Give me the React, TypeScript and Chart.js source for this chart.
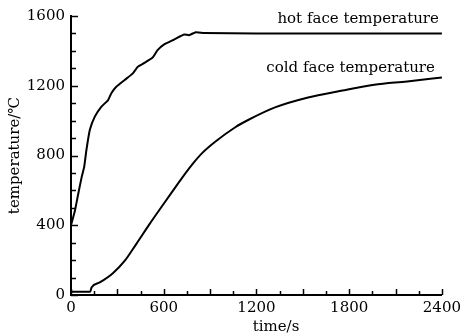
import React, { useEffect, useRef } from 'react';
import { Chart, registerables } from 'chart.js';

Chart.register(...registerables);

// ---- data ----
const hotTime = [0, 26, 47, 69, 85, 100, 122, 154, 197, 240, 261, 293, 347, 400, 432, 475, 528, 560, 603, 667, 732, 764, 807, 860, 1200, 1800, 2400];
const hotTemp = [400, 486, 581, 676, 733, 833, 947, 1023, 1080, 1118, 1157, 1194, 1233, 1271, 1309, 1331, 1362, 1404, 1437, 1465, 1494, 1490, 1507, 1503, 1500, 1500, 1500];

const coldTime = [0, 124, 134, 186, 271, 347, 422, 507, 592, 661, 721, 790, 850, 935, 1063, 1149, 1320, 1534, 1747, 1962, 2175, 2400];
const coldTemp = [19, 19, 45, 72, 125, 195, 292, 405, 513, 600, 675, 755, 815, 880, 962, 1005, 1076, 1133, 1171, 1206, 1225, 1247];

const xTickValues = [0, 600, 1200, 1800, 2400];
const yTickValues = [0, 400, 800, 1200, 1600];
const xMinorStep = 150;
const yMinorStep = 100;

const seriesNames = ['hot face temperature', 'cold face temperature'];
const xTitle = 'time/s';
const yTitle = 'temperature/℃';

const FAMILY = '"DejaVu Serif", serif';

const decorPlugin = {
  id: 'decor',
  afterDraw(chart: any) {
    const { ctx, chartArea } = chart;
    const x = chart.scales.x;
    const y = chart.scales.y;
    ctx.save();
    ctx.strokeStyle = '#000';
    ctx.lineWidth = 1.5;
    // inward y ticks
    for (let v = y.min; v <= y.max; v += yMinorStep) {
      const py = Math.round(y.getPixelForValue(v)) + 0.5;
      const len = yTickValues.includes(v) ? 7 : 5;
      ctx.beginPath();
      ctx.moveTo(chartArea.left, py);
      ctx.lineTo(chartArea.left + len, py);
      ctx.stroke();
    }
    // inward x ticks
    for (let v = x.min; v <= x.max; v += xMinorStep) {
      const px = Math.round(x.getPixelForValue(v)) + 0.5;
      const len = v % 300 === 0 ? 6 : 4;
      ctx.beginPath();
      ctx.moveTo(px, chartArea.bottom);
      ctx.lineTo(px, chartArea.bottom - len);
      ctx.stroke();
    }
    // series labels
    ctx.fillStyle = '#000';
    ctx.font = `15px ${FAMILY}`;
    ctx.textAlign = 'right';
    ctx.textBaseline = 'alphabetic';
    ctx.fillText(seriesNames[0], chartArea.right - 3, 22.5);
    ctx.fillText(seriesNames[1], chartArea.right - 7, 72);
    // x axis title
    ctx.textAlign = 'center';
    ctx.textBaseline = 'middle';
    ctx.fillText(xTitle, 276, 327);
    ctx.restore();
  },
};

export default function App() {
  const ref = useRef<HTMLCanvasElement>(null);
  useEffect(() => {
    if (!ref.current) return;
    Chart.defaults.color = '#000';
    const chart = new Chart(ref.current, {
      type: 'line',
      data: {
        datasets: [
          {
            label: seriesNames[0],
            data: hotTime.map((t, i) => ({ x: t, y: hotTemp[i] })),
            borderColor: '#000',
            borderWidth: 2,
            pointRadius: 0,
            tension: 0.15,
            fill: false,
          },
          {
            label: seriesNames[1],
            data: coldTime.map((t, i) => ({ x: t, y: coldTemp[i] })),
            borderColor: '#000',
            borderWidth: 2,
            pointRadius: 0,
            cubicInterpolationMode: 'monotone',
            fill: false,
          },
        ],
      },
      options: {
        animation: false,
        responsive: false,
        layout: { padding: { top: 16, right: 20, left: 0, bottom: 0 } },
        plugins: { legend: { display: false }, tooltip: { enabled: false } },
        scales: {
          x: {
            type: 'linear',
            min: 0,
            max: 2400,
            afterBuildTicks: (s: any) => {
              s.ticks = xTickValues.map((v) => ({ value: v }));
            },
            afterFit: (s: any) => {
              s.height = 40;
            },
            grid: { display: false, drawTicks: false },
            border: { display: true, color: '#000', width: 2 },
            ticks: {
              color: '#000',
              padding: 4,
              maxRotation: 0,
              font: { family: FAMILY, size: 15 },
              callback: (v: any) => String(v),
            },
          },
          y: {
            type: 'linear',
            min: 0,
            max: 1600,
            afterBuildTicks: (s: any) => {
              s.ticks = yTickValues.map((v) => ({ value: v }));
            },
            afterFit: (s: any) => {
              s.width = 71;
            },
            grid: { display: false, drawTicks: false },
            border: { display: true, color: '#000', width: 2 },
            ticks: {
              color: '#000',
              padding: 6,
              font: { family: FAMILY, size: 15 },
              callback: (v: any) => String(v),
            },
            title: {
              display: true,
              text: yTitle,
              color: '#000',
              font: { family: FAMILY, size: 15 },
              padding: { top: 6, bottom: 0 },
            },
          },
        },
      },
      plugins: [decorPlugin],
    } as any);
    return () => chart.destroy();
  }, []);
  return (
    <div style={{ position: 'fixed', left: 0, top: 0, width: 465, height: 335, background: '#fff' }}>
      <canvas ref={ref} width={465} height={335} style={{ display: 'block' }} />
    </div>
  );
}
